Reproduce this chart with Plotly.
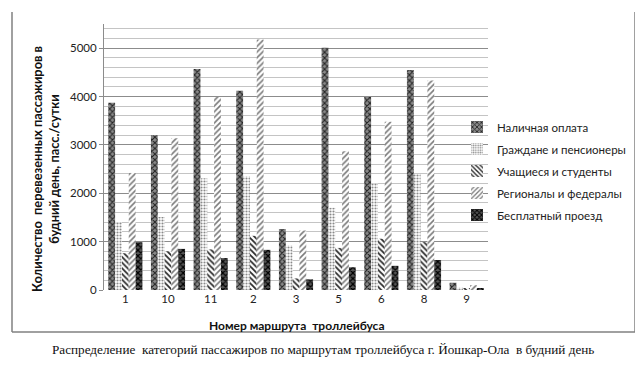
import plotly.graph_objects as go

routes = ["1", "10", "11", "2", "3", "5", "6", "8", "9"]
series_names = ["Наличная оплата", "Граждане и пенсионеры", "Учащиеся и студенты",
                "Регионалы и федералы", "Бесплатный проезд"]
cash = [3870, 3200, 4570, 4120, 1260, 5010, 3990, 4550, 150]
citizens = [1400, 1510, 2310, 2350, 920, 1700, 2200, 2400, 50]
students = [760, 800, 840, 1120, 240, 870, 1060, 990, 30]
regional = [2420, 3140, 3990, 5180, 1230, 2870, 3480, 4330, 100]
free = [990, 850, 660, 830, 220, 470, 500, 620, 40]
values = [cash, citizens, students, regional, free]

styles = [
    dict(shape="x", fgcolor="#222222", bgcolor="#8a8a8a", size=4, solidity=0.45),
    dict(shape=".", fgcolor="#8a8a8a", bgcolor="#ffffff", size=3, solidity=0.4),
    dict(shape="\\", fgcolor="#2a2a2a", bgcolor="#ffffff", size=4, solidity=0.45),
    dict(shape="/", fgcolor="#7a7a7a", bgcolor="#ffffff", size=4, solidity=0.4),
    dict(shape="x", fgcolor="#000000", bgcolor="#555555", size=4, solidity=0.5),
]

fig = go.Figure()
for i, (name, vals, st) in enumerate(zip(series_names, values, styles)):
    fig.add_trace(go.Bar(
        x=routes, y=vals, name=name, legendgroup=f"g{i}",
        marker=dict(color=st["bgcolor"], line=dict(width=0),
                    pattern=dict(shape=st["shape"], fgcolor=st["fgcolor"],
                                 bgcolor=st["bgcolor"], size=st["size"],
                                 solidity=st["solidity"], fillmode="replace")),
    ))

# page body margin offset (screen = div + OFF)
OFF = 8
W, H = 643 - OFF, 367 - OFF
# target screen pixels of plot area
SL, SR, ST, SB = 104, 488, 24, 290
L, T = SL - OFF, ST - OFF
R, B = W - (SR - OFF), H - (SB - OFF)
pw, ph = W - L - R, H - T - B

def px(x):
    return (x - OFF - L) / pw

def py(y):
    return (H - B - (y - OFF)) / ph

fig.update_layout(
    width=W, height=H,
    margin=dict(l=L, r=R, t=T, b=B, autoexpand=False),
    paper_bgcolor="white", plot_bgcolor="white",
    barmode="group", bargap=0.2, bargroupgap=0,
    font=dict(family="Lato, Liberation Sans, sans-serif", size=11, color="#222"),
    legend=dict(x=px(457), xanchor="left", y=py(171), yanchor="middle",
                bgcolor="rgba(0,0,0,0)", font=dict(size=11.5, color="#222"),
                tracegroupgap=3, itemwidth=30),
    showlegend=True,
)
fig.update_xaxes(
    type="category", showgrid=False, showline=False, ticks="",
    tickfont=dict(size=11.5, color="#222"),
)
fig.update_yaxes(
    range=[0, 5500], tick0=0, dtick=1000, showgrid=True, gridcolor="#8c8c8c", gridwidth=1,
    minor=dict(dtick=200, showgrid=True, gridcolor="#c4c4c4", gridwidth=1),
    showline=True, linecolor="#8c8c8c", linewidth=1,
    ticks="outside", ticklen=4, tickcolor="#8c8c8c",
    tickfont=dict(size=11.5, color="#222"), zeroline=False,
)

annotations = [
    dict(text="<b>Количество  перевезенных пассажиров в<br>будний день, пасс./сутки</b>",
         x=px(45), y=py(169), xref="paper", yref="paper", showarrow=False,
         xanchor="center", yanchor="middle",
         textangle=-90, font=dict(size=12.8, color="#111"), align="center"),
    dict(text="<b>Номер маршрута  троллейбуса</b>",
         x=px(296), y=py(325), xref="paper", yref="paper", showarrow=False,
         xanchor="center", yanchor="middle",
         font=dict(size=12, color="#111")),
    dict(text="Распределение  категорий пассажиров по маршрутам троллейбуса г. Йошкар-Ола  в будний день",
         x=px(323), y=py(350), xref="paper", yref="paper", showarrow=False,
         xanchor="center", yanchor="middle",
         font=dict(family="Liberation Serif, serif", size=13.2, color="#111")),
]
fig.update_layout(annotations=annotations)

border = dict(color="#808080", width=1.5)
fig.add_shape(type="line", xref="paper", yref="paper", x0=px(12), x1=px(12), y0=py(12), y1=py(332), line=border)
fig.add_shape(type="line", xref="paper", yref="paper", x0=px(635), x1=px(635), y0=py(12), y1=py(332), line=border)
fig.add_shape(type="line", xref="paper", yref="paper", x0=px(12), x1=px(635), y0=py(332), y1=py(332), line=border)

fig.write_html("out.html")
